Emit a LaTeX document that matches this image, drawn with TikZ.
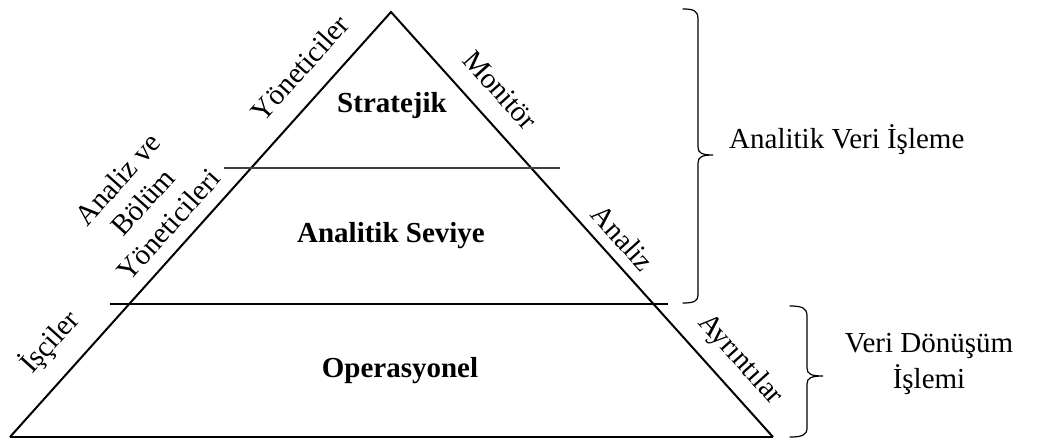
\documentclass[tikz,border=0pt]{standalone}
\usepackage{fontspec}
\setmainfont{Liberation Serif}
\begin{document}
\begin{tikzpicture}[x=1pt,y=-1pt,
  edge/.style={line width=2pt, line join=miter},
  divider/.style={line width=1.3pt},
  brace/.style={line width=1.2pt, line cap=round},
  lvl/.style={font=\fontsize{29}{35}\selectfont\bfseries, anchor=base, inner sep=0pt},
  side/.style={font=\fontsize{29}{34}\selectfont, inner sep=0pt, align=center},
  note/.style={font=\fontsize{29}{36}\selectfont, inner sep=0pt, align=center}]
\useasboundingbox (0,0) rectangle (1038,441);

% pyramid corners
\coordinate (apex) at (391,12);
\coordinate (bl) at (10,437);
\coordinate (br) at (773,437);
\draw[edge] (bl) -- (apex) -- (br);
\draw[edge, line width=2.6pt] (bl) -- (br);

% level dividers
\coordinate (d1l) at (224,168);
\coordinate (d1r) at (560,168);
\coordinate (d2l) at (110,304);
\coordinate (d2r) at (668,304);
\draw[divider, black!75] (d1l) -- (d1r);
\draw[divider] (d2l) -- (d2r);

% level names
\node[lvl] (strat) at (392,113) {Stratejik};
\node[lvl] (anal) at (391,242) {Analitik Seviye};
\node[lvl] (oper) at (400,377) {Operasyonel};

% labels along the left side
\node[side, rotate=48] (yon) at (300,68) {Yöneticiler};
\node[side, rotate=48] (bol) at (143,202) {Analiz ve\\Bölüm\\Yöneticileri};
\node[side, rotate=48] (isc) at (50,342) {İşçiler};

% labels along the right side
\node[side, rotate=-48] (mon) at (500,90) {Monitör};
\node[side, rotate=-48] (anz) at (623,238) {Analiz};
\node[side, rotate=-48] (ayr) at (740,360) {Ayrıntılar};

% upper brace
\coordinate (b1t) at (683,9);
\coordinate (b1m) at (713,155);
\coordinate (b1b) at (683,303);
\draw[brace] (b1t) .. controls (694,9) and (698,11) .. (698,19) -- (698,147)
  .. controls (698,153) and (702,155) .. (b1m)
  .. controls (702,155) and (698,157) .. (698,163) -- (698,295)
  .. controls (698,301) and (694,303) .. (b1b);

% lower brace
\coordinate (b2t) at (790,306);
\coordinate (b2m) at (823,376);
\coordinate (b2b) at (790,437);
\draw[brace] (b2t) .. controls (802,306) and (807,308) .. (807,316) -- (807,368)
  .. controls (807,374) and (811,376) .. (b2m)
  .. controls (811,376) and (807,378) .. (807,384) -- (807,428)
  .. controls (807,435) and (802,437) .. (b2b);

% brace captions
\node[note, anchor=base west] (avi) at (729,148) {Analitik Veri İşleme};
\node[note] (vdi) at (929,364) {Veri Dönüşüm\\İşlemi};
\end{tikzpicture}
\end{document}
